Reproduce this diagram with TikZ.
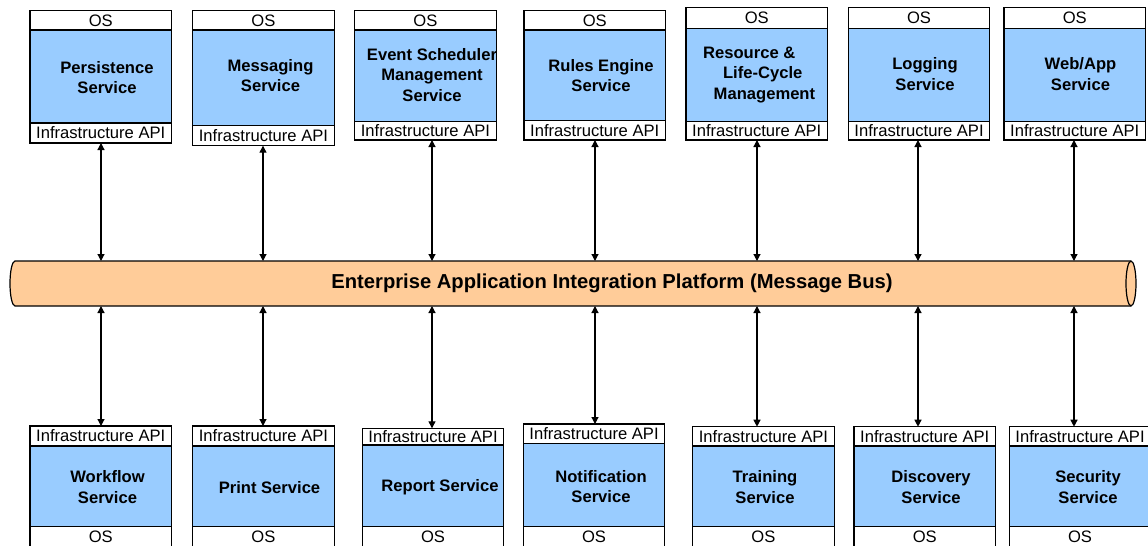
\documentclass[tikz,border=0pt]{standalone}
\usepackage{fontspec}
\setmainfont{Liberation Sans}
\usetikzlibrary{arrows.meta,positioning}

\begin{document}
\begin{tikzpicture}[x=0.5pt,y=-0.5pt,
		row/.style={draw,line width=0.6pt,fill=white,minimum width=70.75pt,inner sep=0pt,outer sep=0pt,font=\fontsize{8.3}{10}\selectfont},
		svcbody/.style={draw,line width=0.6pt,fill=svcblue,minimum width=70.75pt,inner sep=0pt,outer sep=0pt},
		svcname/.style={align=center,inner sep=0pt,font=\bfseries\fontsize{8.3}{10.2}\selectfont},
		busarrow/.style={line width=0.6pt,{Triangle[length=3.5pt,width=3.5pt]}-{Triangle[length=3.5pt,width=3.5pt]}}]
	\definecolor{svcblue}{HTML}{99CCFF}
	\definecolor{busorange}{HTML}{FFCC99}
	\useasboundingbox (0,0) rectangle (1148,546);
	
	% message bus
	\node[minimum width=558pt,minimum height=22.5pt,inner sep=0pt,outer sep=0pt] (bus) at (573,283.5) {};
	\draw[line width=0.6pt,fill=busorange] (bus.north west) -- (bus.north east)
		arc[start angle=90,end angle=-90,x radius=2.5pt,y radius=11.25pt] -- (bus.south west)
		arc[start angle=270,end angle=90,x radius=2.5pt,y radius=11.25pt] -- cycle;
	\draw[line width=0.6pt] (bus.north east) arc[start angle=90,end angle=270,x radius=2.5pt,y radius=11.25pt];
	\node[font=\bfseries\fontsize{10.1}{12}\selectfont] (bustext) at (612,283.5) {Enterprise Application Integration Platform (Message Bus)};
	
	% upper services
	\node[row,minimum height=9.65pt,anchor=north west] (tos1) at (30,10.7) {OS};
	\node[svcbody,minimum height=46.5pt,below=0pt of tos1] (tsvc1) {};
	\node[row,minimum height=10pt,below=0pt of tsvc1] (tapi1) {Infrastructure API};
	\node[svcname] (tname1) at (107,77.8) {Persistence\\Service};
	
	\node[row,minimum height=9.65pt,anchor=north west] (tos2) at (192.7,10.7) {OS};
	\node[svcbody,minimum height=47.85pt,below=0pt of tos2] (tsvc2) {};
	\node[row,minimum height=10pt,below=0pt of tsvc2] (tapi2) {Infrastructure API};
	\node[svcname] (tname2) at (270.5,75.8) {Messaging\\Service};
	
	\node[row,minimum height=9.65pt,anchor=north west] (tos3) at (354.7,10.7) {OS};
	\node[svcbody,minimum height=45.85pt,below=0pt of tos3] (tsvc3) {};
	\node[row,minimum height=9.15pt,below=0pt of tsvc3] (tapi3) {Infrastructure API};
	\node[svcname] (tname3) at (432,75) {Event Scheduler\\Management\\Service};
	
	\node[row,minimum height=9.65pt,anchor=north west] (tos4) at (524,10.7) {OS};
	\node[svcbody,minimum height=45.35pt,below=0pt of tos4] (tsvc4) {};
	\node[row,minimum height=9.65pt,below=0pt of tsvc4] (tapi4) {Infrastructure API};
	\node[svcname] (tname4) at (601,75.5) {Rules Engine\\Service};
	
	\node[row,minimum height=10.5pt,anchor=north west] (tos5) at (686,7.3) {OS};
	\node[svcbody,minimum height=46.7pt,below=0pt of tos5] (tsvc5) {};
	\node[row,minimum height=9.15pt,below=0pt of tsvc5] (tapi5) {Infrastructure API};
	\node[svcname,align=left,anchor=west] (tname5) at (702.7,74.7) {Resource \&\\\hspace*{10pt}Life-Cycle\\\hspace*{5.3pt}Management};
	
	\node[row,minimum height=10.5pt,anchor=north west] (tos6) at (848.3,7.3) {OS};
	\node[svcbody,minimum height=46.7pt,below=0pt of tos6] (tsvc6) {};
	\node[row,minimum height=9.15pt,below=0pt of tsvc6] (tapi6) {Infrastructure API};
	\node[svcname] (tname6) at (925,74.2) {Logging\\Service};
	
	\node[row,minimum height=10.5pt,anchor=north west] (tos7) at (1004,7.3) {OS};
	\node[svcbody,minimum height=46.7pt,below=0pt of tos7] (tsvc7) {};
	\node[row,minimum height=9.15pt,below=0pt of tsvc7] (tapi7) {Infrastructure API};
	\node[svcname] (tname7) at (1080.5,74.2) {Web/App\\Service};
	
	% lower services
	\node[row,minimum height=10pt,anchor=north west] (bapi1) at (30,426) {Infrastructure API};
	\node[svcbody,minimum height=40.35pt,below=0pt of bapi1] (bsvc1) {};
	\node[row,minimum height=10pt,below=0pt of bsvc1] (bos1) {OS};
	\node[svcname] (bname1) at (107.5,487) {Workflow\\Service};
	
	\node[row,minimum height=10pt,anchor=north west] (bapi2) at (192.7,426) {Infrastructure API};
	\node[svcbody,minimum height=40.35pt,below=0pt of bapi2] (bsvc2) {};
	\node[row,minimum height=10pt,below=0pt of bsvc2] (bos2) {OS};
	\node[svcname] (bname2) at (269.5,487.3) {Print Service};
	
	\node[row,minimum height=8.35pt,anchor=north west] (bapi3) at (362.3,428.3) {Infrastructure API};
	\node[svcbody,minimum height=40.85pt,below=0pt of bapi3] (bsvc3) {};
	\node[row,minimum height=10pt,below=0pt of bsvc3] (bos3) {OS};
	\node[svcname] (bname3) at (440,487.7) {Report Service};
	
	\node[row,minimum height=9.65pt,anchor=north west] (bapi4) at (523.3,424) {Infrastructure API};
	\node[svcbody,minimum height=41.7pt,below=0pt of bapi4] (bsvc4) {};
	\node[row,minimum height=10pt,below=0pt of bsvc4] (bos4) {OS};
	\node[svcname] (bname4) at (601,486.7) {Notification\\Service};
	
	\node[row,minimum height=9.65pt,anchor=north west] (bapi5) at (692.7,426.7) {Infrastructure API};
	\node[svcbody,minimum height=40.35pt,below=0pt of bapi5] (bsvc5) {};
	\node[row,minimum height=10pt,below=0pt of bsvc5] (bos5) {OS};
	\node[svcname] (bname5) at (765,487) {Training\\Service};
	
	\node[row,minimum height=9.65pt,anchor=north west] (bapi6) at (854,426.7) {Infrastructure API};
	\node[svcbody,minimum height=40.35pt,below=0pt of bapi6] (bsvc6) {};
	\node[row,minimum height=10pt,below=0pt of bsvc6] (bos6) {OS};
	\node[svcname] (bname6) at (931,487) {Discovery\\Service};
	
	\node[row,minimum height=9.65pt,anchor=north west] (bapi7) at (1009.3,426.7) {Infrastructure API};
	\node[svcbody,minimum height=40.35pt,below=0pt of bapi7] (bsvc7) {};
	\node[row,minimum height=10pt,below=0pt of bsvc7] (bos7) {OS};
	\node[svcname] (bname7) at (1088,487) {Security\\Service};
	
	% links to the bus
	\foreach \i/\x in {1/101,2/263,3/432,4/595,5/757,6/918,7/1074}
		\draw[busarrow] (tapi\i.south -| \x,0) -- (bus.north -| \x,0);
	\foreach \i/\x in {1/101,2/263,3/432,4/595,5/757,6/918,7/1074}
		\draw[busarrow] (bus.south -| \x,0) -- (bapi\i.north -| \x,0);
\end{tikzpicture}
\end{document}
